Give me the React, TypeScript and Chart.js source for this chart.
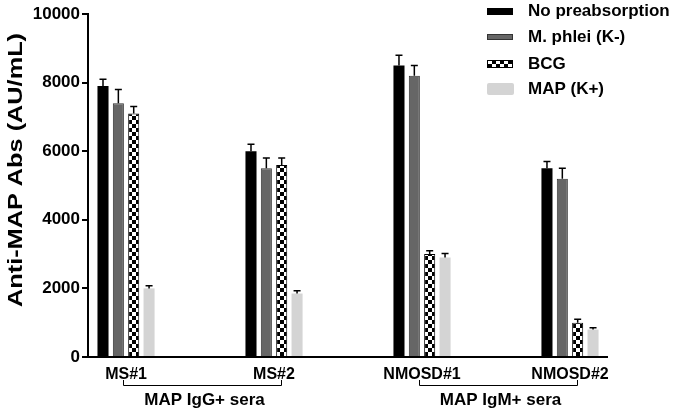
import React, { useEffect, useRef } from 'react';
import { Chart, registerables } from 'chart.js';
Chart.register(...registerables);

const groups = ['MS#1', 'MS#2', 'NMOSD#1', 'NMOSD#2'];
const seriesNames = ['No preabsorption', 'M. phlei (K-)', 'BCG', 'MAP (K+)'];
const noPreabsorption = [7900, 6000, 8500, 5500];
const noPreabsorptionErr = [200, 200, 300, 200];
const mPhlei = [7400, 5500, 8200, 5200];
const mPhleiErr = [400, 300, 300, 300];
const bcg = [7100, 5600, 3000, 1000];
const bcgErr = [200, 200, 100, 100];
const mapK = [2000, 1850, 2900, 800];
const mapKErr = [80, 80, 120, 50];
const yTickValues = [0, 2000, 4000, 6000, 8000, 10000];
const bracketLabels = ['MAP IgG+ sera', 'MAP IgM+ sera'];
const bracketFrom = [0, 2];
const bracketTo = [1, 3];
const yTitle = 'Anti-MAP Abs (AU/mL)';

const FONT = "'Liberation Sans', Arial, sans-serif";

function makeChecker(): CanvasPattern | string {
  const c = document.createElement('canvas');
  c.width = 8;
  c.height = 8;
  const g = c.getContext('2d');
  if (!g) return '#000';
  g.fillStyle = '#fff';
  g.fillRect(0, 0, 8, 8);
  g.fillStyle = '#000';
  g.fillRect(0, 0, 4, 4);
  g.fillRect(4, 4, 4, 4);
  const p = g.createPattern(c, 'repeat');
  return p || '#000';
}

export default function App() {
  const ref = useRef<HTMLCanvasElement | null>(null);

  useEffect(() => {
    const canvas = ref.current;
    if (!canvas) return;
    const checker = makeChecker();
    const values = [noPreabsorption, mPhlei, bcg, mapK];
    const errs = [noPreabsorptionErr, mPhleiErr, bcgErr, mapKErr];
    const fills: any[] = ['#000000', '#666666', checker, '#d4d4d4'];
    const borders = ['#000000', '#333333', '#000000', '#d4d4d4'];
    const borderWidths = [0, 1, 1, 0];

    const overlay = {
      id: 'overlay',
      afterDatasetsDraw(chart: any) {
        const ctx = chart.ctx;
        const ys = chart.scales.y;
        const xs = chart.scales.x;
        ctx.save();
        // error bars
        ctx.strokeStyle = '#000';
        ctx.lineWidth = 1.5;
        values.forEach((arr, di) => {
          const meta = chart.getDatasetMeta(di);
          arr.forEach((v, j) => {
            const el = meta.data[j];
            if (!el) return;
            const top = ys.getPixelForValue(v + errs[di][j]);
            ctx.beginPath();
            ctx.moveTo(el.x, el.y);
            ctx.lineTo(el.x, top);
            ctx.moveTo(el.x - 3.5, top);
            ctx.lineTo(el.x + 3.5, top);
            ctx.stroke();
          });
        });
        // brackets
        ctx.lineWidth = 1;
        ctx.strokeStyle = '#000';
        ctx.fillStyle = '#000';
        bracketLabels.forEach((lab, k) => {
          const x1 = Math.round(xs.getPixelForValue(bracketFrom[k]) - 3) + 0.5;
          const x2 = Math.round(xs.getPixelForValue(bracketTo[k]) + 7) + 0.5;
          const yTop = 380;
          const yBot = 385.5;
          ctx.beginPath();
          ctx.moveTo(x1, yTop);
          ctx.lineTo(x1, yBot);
          ctx.lineTo(x2, yBot);
          ctx.lineTo(x2, yTop);
          ctx.stroke();
          ctx.font = `bold 17px ${FONT}`;
          ctx.textAlign = 'center';
          ctx.textBaseline = 'middle';
          ctx.fillText(lab, (x1 + x2) / 2 + 2, 400);
        });
        // y title
        ctx.save();
        ctx.translate(16, 170);
        ctx.rotate(-Math.PI / 2);
        ctx.font = `bold 21px ${FONT}`;
        const w = ctx.measureText(yTitle).width;
        ctx.scale(274 / w, 1);
        ctx.textAlign = 'center';
        ctx.textBaseline = 'middle';
        ctx.fillText(yTitle, 0, 0);
        ctx.restore();
        // legend
        const rowY = [11, 37, 64, 89];
        const boxH = [7, 6, 8, 12];
        ctx.font = `bold 17px ${FONT}`;
        ctx.textAlign = 'left';
        ctx.textBaseline = 'middle';
        seriesNames.forEach((name, i) => {
          const by = Math.round(rowY[i] - boxH[i] / 2);
          ctx.fillStyle = fills[i];
          if (i === 3) {
            ctx.beginPath();
            (ctx as any).roundRect(487, by, 27, boxH[i], 2);
            ctx.fill();
          } else {
            ctx.fillRect(487, by, 26, boxH[i]);
            if (borderWidths[i] > 0) {
              ctx.strokeStyle = borders[i];
              ctx.lineWidth = 1;
              ctx.strokeRect(487.5, by + 0.5, 25, boxH[i] - 1);
            }
          }
          ctx.fillStyle = '#000';
          ctx.fillText(name, 528, rowY[i]);
        });
        ctx.restore();
      },
    };

    const chart = new Chart(canvas, {
      type: 'bar',
      data: {
        datasets: values.map((arr, i) => ({
          label: seriesNames[i],
          data: arr.map((v, j) => ({ x: j, y: v })),
          backgroundColor: fills[i],
          borderColor: borders[i],
          borderWidth: borderWidths[i],
          categoryPercentage: 0.415,
          barPercentage: 0.72,
        })),
      },
      options: {
        responsive: false,
        animation: false,
        layout: { padding: { top: 14, right: 68, left: 0, bottom: 0 } },
        plugins: { legend: { display: false }, tooltip: { enabled: false } },
        scales: {
          x: {
            type: 'linear',
            offset: false,
            min: -0.257,
            max: 3.25,
            afterBuildTicks: (s: any) => {
              s.ticks = groups.map((_, i) => ({ value: i }));
            },
            afterFit: (s: any) => {
              s.height = 56;
            },
            grid: { display: false, drawTicks: false, offset: false },
            border: { display: true, color: '#000', width: 2 },
            ticks: {
              autoSkip: false,
              maxRotation: 0,
              minRotation: 0,
              padding: 8,
              color: '#000',
              font: { family: FONT, size: 16, weight: 'bold' },
              callback: (v: any) => groups[v] ?? '',
            },
          },
          y: {
            min: 0,
            max: 10000,
            afterBuildTicks: (s: any) => {
              s.ticks = yTickValues.map((v) => ({ value: v }));
            },
            afterFit: (s: any) => {
              s.width = 88;
            },
            grid: {
              display: true,
              drawOnChartArea: false,
              drawTicks: true,
              tickLength: 6,
              color: '#000',
              lineWidth: 2,
            },
            border: { display: true, color: '#000', width: 2 },
            ticks: {
              padding: 2,
              color: '#000',
              font: { family: FONT, size: 17, weight: 'bold' },
              callback: (v: any) => String(v),
            },
          },
        },
      },
      plugins: [overlay],
    } as any);
    return () => chart.destroy();
  }, []);

  return (
    <div style={{ position: 'fixed', left: 0, top: 0, width: 675, height: 413, background: '#fff' }}>
      <canvas ref={ref} width={675} height={413} style={{ display: 'block' }} />
    </div>
  );
}
